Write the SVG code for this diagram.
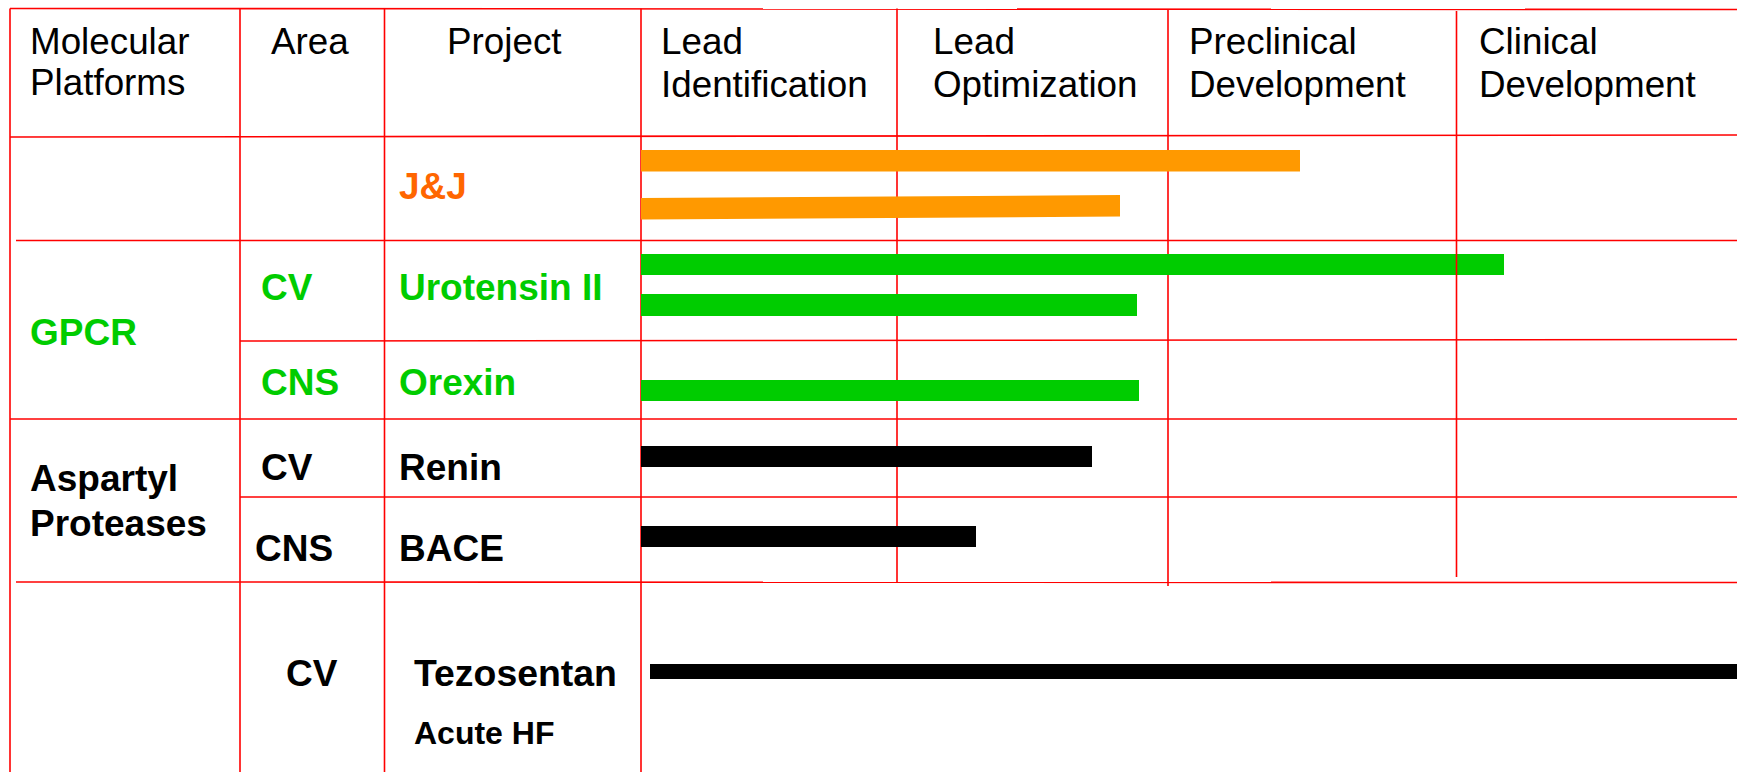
<svg xmlns="http://www.w3.org/2000/svg" width="1737" height="772" viewBox="0 0 1737 772">
<style>
.g{stroke:#ff0000;stroke-width:1.6;fill:none}
.h{font-family:"Liberation Sans",Arial,sans-serif;font-size:36.8px;fill:#000}
.b{font-family:"Liberation Sans",Arial,sans-serif;font-size:37px;font-weight:bold}
.grn{fill:#00cc00}
.blk{fill:#000}
.org{fill:#ff6600}
.barO{fill:#ff9900}
.barG{fill:#00cc00}
.barK{fill:#000}
</style>
<rect width="1737" height="772" fill="#fff"/>
<g id="grid">
<line class="g" x1="10" y1="8.5" x2="1737" y2="9.5"/>
<line class="g" x1="10" y1="137" x2="1737" y2="135"/>
<line class="g" x1="16" y1="240.5" x2="1737" y2="240.5"/>
<line class="g" x1="240" y1="341" x2="1737" y2="339.5"/>
<line class="g" x1="10" y1="419" x2="1737" y2="419"/>
<line class="g" x1="240" y1="497" x2="1737" y2="497"/>
<line class="g" x1="16" y1="582" x2="1737" y2="582.5"/>
<line class="g" x1="10" y1="8.5" x2="10" y2="772"/>
<line class="g" x1="240" y1="8.5" x2="240" y2="772"/>
<line class="g" x1="384.5" y1="8.5" x2="384.5" y2="772"/>
<line class="g" x1="641" y1="8.5" x2="641" y2="772"/>
<line class="g" x1="897" y1="8.5" x2="897" y2="582"/>
<line class="g" x1="1168" y1="9" x2="1168" y2="586"/>
</g>
<g id="header">
<text class="h" x="30" y="54">Molecular</text>
<text class="h" x="30" y="95">Platforms</text>
<text class="h" x="271" y="54">Area</text>
<text class="h" x="447" y="54">Project</text>
<text class="h" x="661" y="54">Lead</text>
<text class="h" x="661" y="97">Identification</text>
<text class="h" x="933" y="54">Lead</text>
<text class="h" x="933" y="97">Optimization</text>
<text class="h" x="1189" y="54">Preclinical</text>
<text class="h" x="1189" y="97">Development</text>
<text class="h" x="1479" y="54">Clinical</text>
<text class="h" x="1479" y="97">Development</text>
</g>
<g id="row-jj">
<text class="b org" x="399" y="199">J&amp;J</text>
<rect class="barO" x="641" y="150" width="659" height="21.5"/>
<polygon class="barO" points="641,198 1120,195 1120,216.5 641,219.5"/>
</g>
<g id="row-gpcr">
<text class="b grn" x="30" y="345">GPCR</text>
<text class="b grn" x="261" y="300">CV</text>
<text class="b grn" x="399" y="300">Urotensin II</text>
<rect class="barG" x="641" y="254" width="863" height="21"/>
<rect class="barG" x="641" y="294" width="496" height="22"/>
<text class="b grn" x="261" y="395">CNS</text>
<text class="b grn" x="399" y="395">Orexin</text>
<rect class="barG" x="641" y="380" width="498" height="21"/>
</g>
<g id="row-aspartyl">
<text class="b blk" x="30" y="491">Aspartyl</text>
<text class="b blk" x="30" y="536">Proteases</text>
<text class="b blk" x="261" y="480">CV</text>
<text class="b blk" x="399" y="480">Renin</text>
<rect class="barK" x="641" y="446" width="451" height="21"/>
<text class="b blk" x="255" y="561">CNS</text>
<text class="b blk" x="399" y="561">BACE</text>
<rect class="barK" x="641" y="526" width="335" height="21"/>
</g>
<g id="row-tezosentan">
<text class="b blk" x="286" y="686">CV</text>
<text class="b blk" x="414" y="686" style="font-size:37.4px">Tezosentan</text>
<text class="b blk" x="414" y="744" style="font-size:32px">Acute HF</text>
<rect class="barK" x="650" y="664" width="1087" height="15"/>
</g>
<g id="grid-top">
<line class="g" x1="1456.5" y1="11" x2="1456.5" y2="577"/>
</g>
</svg>
